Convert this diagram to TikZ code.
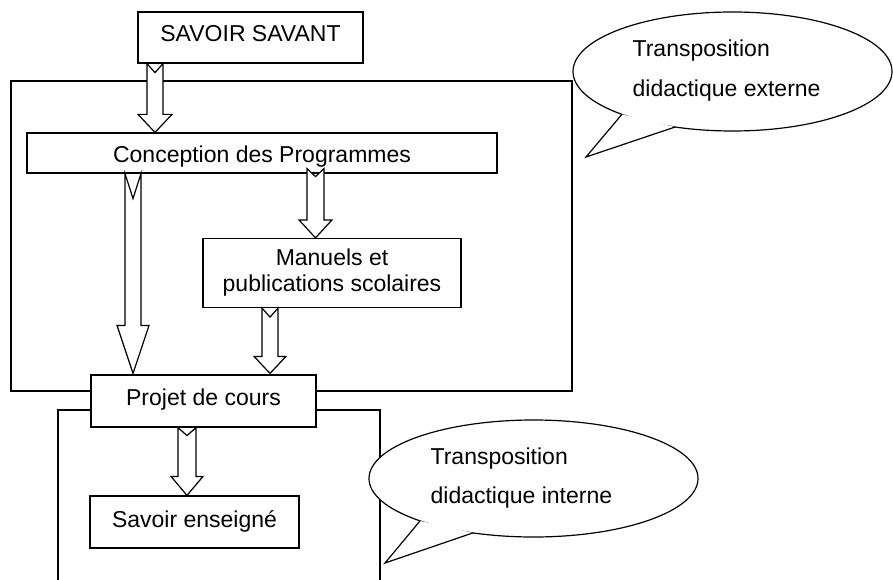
\documentclass[tikz,border=0pt]{standalone}
\usepackage{fontspec}
\setmainfont{Liberation Sans}
\usetikzlibrary{shapes.geometric,calc}
% #1 start coord name, #2 end (tip) coord name, #3 half shaft, #4 half head, #5 head length, #6 notch depth
\newcommand\blockarr[6]{%
  \draw[arrowbody] ($(#1)+(-#3,0)$) -- ($(#2)+(-#3,-#5)$) -- ($(#2)+(-#4,-#5)$) -- (#2)
    -- ($(#2)+(#4,-#5)$) -- ($(#2)+(#3,-#5)$) -- ($(#1)+(#3,0)$) -- ($(#1)+(0,#6)$) -- cycle;}
\begin{document}
\begin{tikzpicture}[x=1pt,y=-1pt,line width=1.2pt,
  box/.style={draw,fill=white,inner sep=0pt,align=center,font=\fontsize{23}{26}\selectfont},
  frameline/.style={draw},
  arrowbody/.style={draw,fill=white,line join=miter},
  bubble/.style={draw,fill=white,ellipse,inner sep=0pt},
  bubbletext/.style={anchor=base west,inner sep=0pt,font=\fontsize{23}{26}\selectfont},
  pointer/.style={draw,line join=miter}]
\useasboundingbox (0,0) rectangle (893,580);

% frames
\draw[frameline] (11,81) rectangle (572,391);
\draw[frameline] (58,582) -- (58,410) -- (380,410) -- (380,582);

% boxes
\node[box,minimum width=225pt,minimum height=51pt,text height=16.5pt,text depth=7.5pt] (savant) at (250.5,37.5) {SAVOIR SAVANT};
\node[box,minimum width=470pt,minimum height=40pt,text height=20pt,text depth=0pt] (concep) at (262,153) {Conception des Programmes};
\node[box,minimum width=258pt,minimum height=69pt] (manuels) at (332,273) {Manuels et\\publications scolaires};
\node[box,minimum width=225pt,minimum height=52pt,text height=16.5pt,text depth=8.5pt] (projet) at (203.5,401) {Projet de cours};
\node[box,minimum width=209pt,minimum height=52pt,text height=16.5pt,text depth=6.5pt] (enseigne) at (194.5,522) {Savoir enseigné};

% block arrows
\coordinate (ax1) at (155,0);
\coordinate (ax2) at (133,0);
\coordinate (ax3) at (315.5,0);
\coordinate (ax4) at (270,0);
\coordinate (ax5) at (187,0);
\coordinate (a1s) at (ax1 |- savant.south);
\coordinate (a1e) at (ax1 |- concep.north);
\coordinate (a2s) at (ax2 |- concep.south);
\coordinate (a2e) at ($(ax2 |- projet.north)+(0,-1)$);
\coordinate (a3s) at ($(ax3 |- concep.south)+(0,-5)$);
\coordinate (a3e) at (ax3 |- manuels.north);
\coordinate (a4s) at (ax4 |- manuels.south);
\coordinate (a4e) at ($(ax4 |- projet.north)+(0,-1)$);
\coordinate (a5s) at (ax5 |- projet.south);
\coordinate (a5e) at (ax5 |- enseigne.north);
\blockarr{a1s}{a1e}{8}{17}{18}{9}
\blockarr{a2s}{a2e}{8}{16}{48}{25}
\blockarr{a3s}{a3e}{8.5}{16.5}{18}{8}
\blockarr{a4s}{a4e}{8}{16}{17}{9}
\blockarr{a5s}{a5e}{9}{16}{19}{8}

% external callout
\node[bubble,minimum width=319pt,minimum height=119pt] (ext) at (732.5,71.5) {};
\coordinate (extP1) at ($(ext.center)+(133.9:159.5 and 59.5)$);
\coordinate (extP2) at ($(ext.center)+(111.1:159.5 and 59.5)$);
\coordinate (extTip) at (586,157);
\fill[white] (extP1) -- (extTip) -- (extP2) -- cycle;
\draw[pointer] (extP1) -- (extTip) -- (extP2);
\node[bubbletext] (extT1) at (632,57) {Transposition};
\node[bubbletext] (extT2) at (632,97) {didactique externe};

% internal callout
\node[bubble,minimum width=329pt,minimum height=117pt] (int) at (533.5,478.5) {};
\coordinate (intP1) at ($(int.center)+(133.6:164.5 and 58.5)$);
\coordinate (intP2) at ($(int.center)+(111.6:164.5 and 58.5)$);
\coordinate (intTip) at (385,563);
\fill[white] (intP1) -- (intTip) -- (intP2) -- cycle;
\draw[pointer] (intP1) -- (intTip) -- (intP2);
\node[bubbletext] (intT1) at (430,464) {Transposition};
\node[bubbletext] (intT2) at (430,503) {didactique interne};
\end{tikzpicture}
\end{document}
